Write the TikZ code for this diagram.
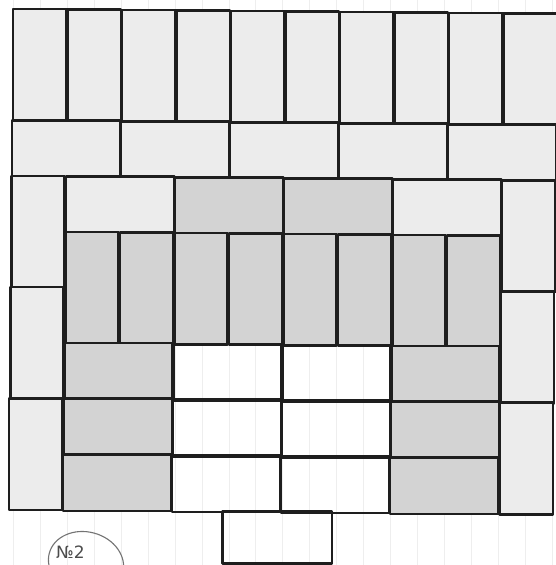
\documentclass[tikz,border=0pt]{standalone}
\usepackage{fontspec}
\newfontfamily\hand{DejaVu Sans}
\definecolor{lightcell}{HTML}{ECECEC}
\definecolor{graycell}{HTML}{D3D3D3}
\definecolor{paperline}{HTML}{EEEEEE}
\definecolor{ink}{HTML}{1E1E1E}
\tikzset{
  tile/.style={draw=ink, line width=2.6pt, line join=round},
  lighttile/.style={tile, fill=lightcell},
  graytile/.style={tile, fill=graycell},
  whitetile/.style={tile},
  paper/.style={draw=paperline, line width=0.6pt},
}
\begin{document}
\begin{tikzpicture}
\useasboundingbox (0,0) rectangle (556pt,-565pt);
\fill[white] (0,0) rectangle (556pt,-565pt);
\begin{scope}[shift={(13pt,-9pt)}, x={(54.5pt,-0.5pt)}, y={(-0.55pt,-55.6pt)}]
  % graph paper
  \begin{scope}
    \clip (-0.5,-0.5) rectangle (10.5,10.5);
    \draw[paper] (-0.5,-0.5) grid[step=0.5] (10.5,10.5);
  \end{scope}
  % rows 0-2: ten vertical dominoes
  \foreach \i in {0,...,9} \draw[lighttile] (\i,0) rectangle (\i+1,2);
  % row 2-3: five horizontal dominoes
  \foreach \k in {0,2,4,6,8} \draw[lighttile] (\k,2) rectangle (\k+2,3);
  % side columns
  \foreach \j in {3,5,7} {
    \draw[lighttile] (0,\j) rectangle (1,\j+2);
    \draw[lighttile] (9,\j) rectangle (10,\j+2);
  }
  % row 3-4
  \draw[lighttile] (1,3) rectangle (3,4);
  \draw[graytile]  (3,3) rectangle (5,4);
  \draw[graytile]  (5,3) rectangle (7,4);
  \draw[lighttile] (7,3) rectangle (9,4);
  % rows 4-6: eight vertical gray dominoes
  \foreach \i in {1,...,8} \draw[graytile] (\i,4) rectangle (\i+1,6);
  % rows 6-9
  \foreach \j in {6,7,8} {
    \draw[graytile]  (1,\j) rectangle (3,\j+1);
    \draw[whitetile] (3,\j) rectangle (5,\j+1);
    \draw[whitetile] (5,\j) rectangle (7,\j+1);
    \draw[graytile]  (7,\j) rectangle (9,\j+1);
  }
  % bottom protrusion
  \draw[whitetile] (3.93,9) rectangle (5.95,9.92);
\end{scope}
% handwritten label
\node[anchor=south west, inner sep=0pt, text=black!70, font=\hand\fontsize{17}{17}\selectfont] (label) at (56pt,-559pt) {№2};
\draw[black!55, line width=1.1pt, rotate around={-15:(86pt,-563pt)}] (86pt,-563pt) ellipse [x radius=38pt, y radius=31pt];
\end{tikzpicture}
\end{document}
